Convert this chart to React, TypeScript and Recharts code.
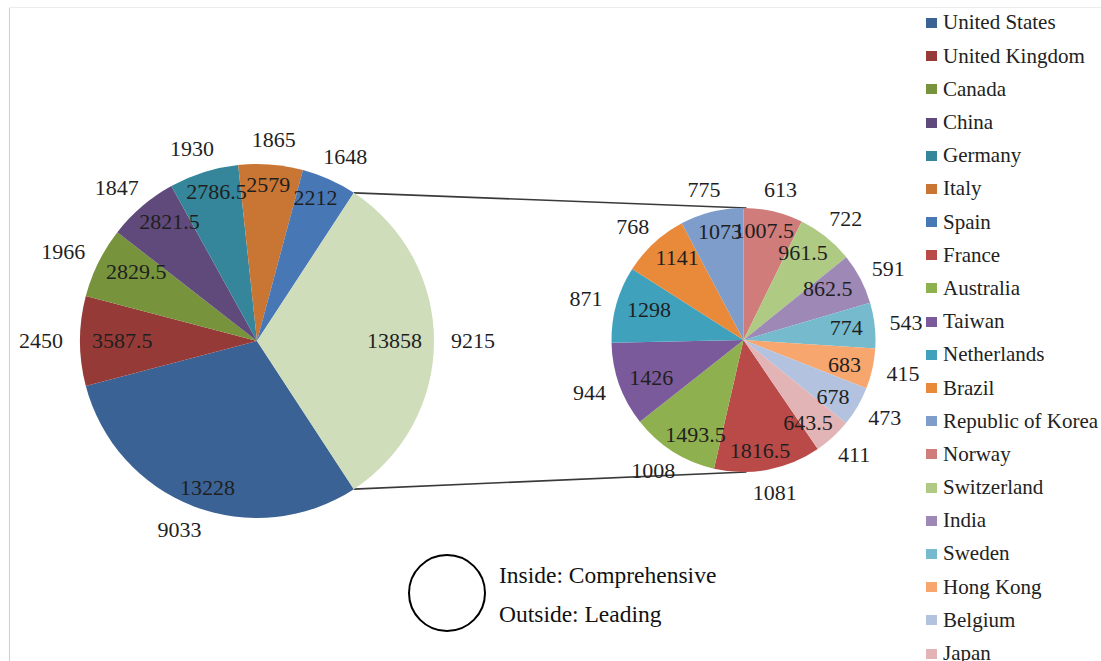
import { Cell, Customized, Legend, Pie, PieChart } from 'recharts'

// main pie: leading countries + the "other" slice that is split into the second pie
const mainCountries = ['United States', 'United Kingdom', 'Canada', 'China', 'Germany', 'Italy', 'Spain']
const mainInside = [13228, 3587.5, 2829.5, 2821.5, 2786.5, 2579, 2212]
const mainOutside = [9033, 2450, 1966, 1847, 1930, 1865, 1648]
const otherInside = 13858
const otherOutside = 9215

const restCountries = ['France', 'Australia', 'Taiwan', 'Netherlands', 'Brazil', 'Republic of Korea', 'Norway', 'Switzerland', 'India', 'Sweden', 'Hong Kong', 'Belgium', 'Japan']
const restInside = [1816.5, 1493.5, 1426, 1298, 1141, 1073, 1007.5, 961.5, 862.5, 774, 683, 678, 643.5]
const restOutside = [1081, 1008, 944, 871, 768, 775, 613, 722, 591, 543, 415, 473, 411]

const mainColors = ['#3B6294', '#953A37', '#77933C', '#5F4A7B', '#35869A', '#C97534', '#4877B5']
const otherColor = '#CFDDBA'
const restColors = ['#B94A48', '#8FB04E', '#7A5A9B', '#3FA1BC', '#E98A3B', '#7E9DCB', '#CF7C7A', '#AFCA83', '#9D88B6', '#75BACD', '#F7A66E', '#B3C3DF', '#E2B4B5']

const FONT = 'Liberation Serif, Times New Roman, Times, DejaVu Serif, serif'
const LABEL_SIZE = 22
const RAD = Math.PI / 180

const L = { cx: 257, cy: 341, r: 177 }
const R = { cx: 743.5, cy: 340, r: 132 }

const mainData = [
  ...mainCountries.map((name, i) => ({ name, value: mainInside[i] })),
  { name: 'Other', value: otherInside },
]
const restData = restCountries.map((name, i) => ({ name, value: restInside[i] }))

const mainTotal = mainData.reduce((s, d) => s + d.value, 0)
const otherHalf = (otherInside / mainTotal) * 180
const mainStart = -otherHalf

const restTotal = restInside.reduce((s, v) => s + v, 0)
const tailSum = restInside.slice(6).reduce((s, v) => s + v, 0)
const restStart = 90 - (tailSum / restTotal) * 360

const leftIn = [...mainInside, otherInside]
const leftOut = [...mainOutside, otherOutside]

function textW(s: string) {
  let w = 0
  for (const ch of s) w += ch === '.' ? 0.25 : 0.5
  return w * LABEL_SIZE
}

function makeLabel(inside: number[], outside: number[], inGap: number, outGap: number) {
  return (p: any) => {
    const { cx, cy, midAngle, outerRadius, index } = p
    const ux = Math.cos(-midAngle * RAD)
    const uy = Math.sin(-midAngle * RAD)
    const hh = 8
    const a = String(inside[index])
    const b = String(outside[index])
    const ri = outerRadius - inGap
    const ro = outerRadius + outGap
    const ix = cx + ux * ri - (ux * textW(a)) / 2
    const iy = cy + uy * ri - uy * hh
    const ox = cx + ux * ro + (ux * textW(b)) / 2
    const oy = cy + uy * ro + uy * hh
    return (
      <g key={'lbl' + index} fontFamily={FONT} fontSize={LABEL_SIZE} fill="#1f1f1f">
        <text x={ix} y={iy} dy="0.34em" textAnchor="middle">{a}</text>
        <text x={ox} y={oy} dy="0.34em" textAnchor="middle">{b}</text>
      </g>
    )
  }
}

function Extras() {
  const ax = L.cx + L.r * Math.cos(otherHalf * RAD)
  const ay = L.r * Math.sin(otherHalf * RAD)
  return (
    <g>
      <line x1={9.5} y1={7} x2={9.5} y2={661} stroke="#cfcfcf" />
      <line x1={9} y1={7.5} x2={1101} y2={7.5} stroke="#ececec" />
      <line x1={ax} y1={L.cy - ay} x2={R.cx + 3} y2={R.cy - R.r} stroke="#3a3a3a" strokeWidth={1.6} />
      <line x1={ax} y1={L.cy + ay} x2={R.cx + 3} y2={R.cy + R.r} stroke="#3a3a3a" strokeWidth={1.6} />
      <circle cx={447} cy={593} r={38} fill="none" stroke="#000" strokeWidth={2} />
      <g fontFamily={FONT} fontSize={23.5} fill="#111">
        <text x={499} y={575} dy="0.34em">Inside: Comprehensive</text>
        <text x={499} y={614} dy="0.34em">Outside: Leading</text>
      </g>
    </g>
  )
}

function LegendList() {
  const names = [...mainCountries, ...restCountries]
  const colors = [...mainColors, ...restColors]
  return (
    <div style={{ fontFamily: FONT, fontSize: 21, color: '#222' }}>
      {names.map((n, i) => (
        <div key={n} style={{ height: 33.2, display: 'flex', alignItems: 'center', whiteSpace: 'nowrap' }}>
          <span style={{ width: 11, height: 10, background: colors[i], display: 'inline-block', marginLeft: 6, marginRight: 6 }} />
          {n}
        </div>
      ))}
    </div>
  )
}

export default function App() {
  return (
    <div style={{ position: 'absolute', left: 0, top: 0, width: 1101, height: 661, background: '#fff', fontFamily: FONT }}>
      <PieChart width={1101} height={661} margin={{ top: 0, right: 0, bottom: 0, left: 0 }}>
        <Customized component={Extras} />
        <Pie
          data={mainData}
          dataKey="value"
          cx={L.cx}
          cy={L.cy}
          outerRadius={L.r}
          startAngle={mainStart}
          endAngle={mainStart - 360}
          stroke="none"
          label={makeLabel(leftIn, leftOut, 12, 17)}
          labelLine={false}
          isAnimationActive={false}
        >
          {mainData.map((d, i) => <Cell key={d.name} fill={i < mainColors.length ? mainColors[i] : otherColor} />)}
        </Pie>
        <Pie
          data={restData}
          dataKey="value"
          cx={R.cx}
          cy={R.cy}
          outerRadius={R.r}
          startAngle={restStart}
          endAngle={restStart - 360}
          stroke="none"
          label={makeLabel(restInside, restOutside, 12, 15)}
          labelLine={false}
          isAnimationActive={false}
        >
          {restData.map((d, i) => <Cell key={d.name} fill={restColors[i]} />)}
        </Pie>
        <Legend
          layout="vertical"
          align="right"
          verticalAlign="top"
          content={() => <LegendList />}
          wrapperStyle={{ left: 920, top: 6.4, width: 181 }}
        />
      </PieChart>
    </div>
  )
}
